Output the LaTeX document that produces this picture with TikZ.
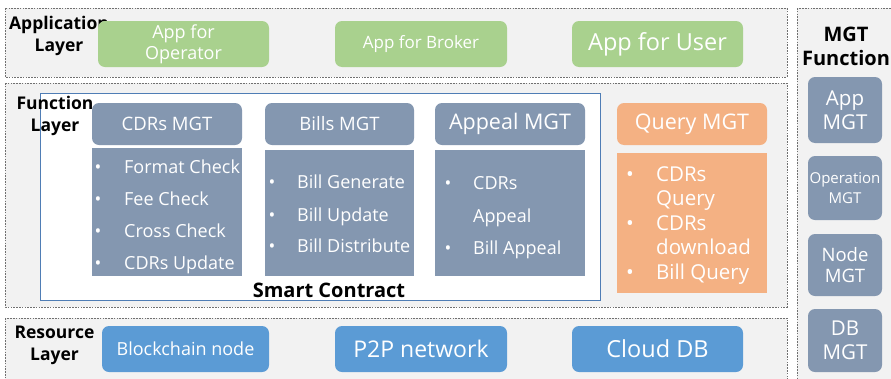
\documentclass[tikz,border=0pt]{standalone}
\usepackage{fontspec}
\setmainfont{Open Sans}
\usetikzlibrary{fit}
\definecolor{appgreen}{HTML}{A9D18E}
\definecolor{slate}{HTML}{8497B0}
\definecolor{peach}{HTML}{F4B183}
\definecolor{resblue}{HTML}{5B9BD5}
\definecolor{layergray}{HTML}{F2F2F2}
\definecolor{scblue}{HTML}{4F7DB5}
\definecolor{dashgray}{HTML}{707070}
\newcommand\fs[2]{\fontsize{#1}{#2}\selectfont}
\newcommand\bitem[2]{\makebox[#1][l]{\textbullet}#2}
\tikzset{
  layerbox/.style={draw=dashgray, dash pattern=on 1.6pt off 1.2pt, line width=0.6pt, fill=layergray},
  rbox/.style={rounded corners=7pt, inner sep=0pt, text=white, align=center},
  sbox/.style={inner sep=0pt, text=white, align=center},
  itemtxt/.style={anchor=west, inner sep=0pt, text=white, text height=0.72em, text depth=0.22em},
  lbl/.style={inner sep=0pt, align=center, font=\bfseries\fs{17.5}{21.5}},
}
\begin{document}
\begin{tikzpicture}[x=1pt,y=-1pt]
\useasboundingbox (0,0) rectangle (891,378);
\clip (0,0) rectangle (891,378);
\fill[white] (0,0) rectangle (891,378);
% layers
\path[layerbox] (5,8) rectangle (787,77);
\path[layerbox] (5,83) rectangle (787,307);
\path[layerbox] (5,318) rectangle (787,392);
\path[layerbox] (797,8) rectangle (905,392);
% smart contract
\draw[scblue, line width=0.7pt, fill=white] (40,93) rectangle (600,300);
\node[lbl, font=\bfseries\fs{20}{24}] (sc) at (329,290) {Smart Contract};
% layer labels
\node[lbl] (appl) at (59,36) {Application\\Layer};
\node[lbl] (funl) at (55,116) {Function\\Layer};
\node[lbl] (resl) at (54.5,345.5) {Resource\\Layer};
\node[lbl, font=\bfseries\fs{20}{24}] (mgtl) at (846,46.5) {MGT\\Function};
% application boxes
\node[rbox, fill=appgreen, fit={(98,21)(269,67)}] (aop) {};
\node[text=white, align=center, inner sep=0pt, font=\fs{18}{21}] at (aop.center) {App for\\Operator};
\node[rbox, fill=appgreen, fit={(335,21)(507,67)}] (abr) {};
\node[text=white, inner sep=0pt, font=\fs{17}{20}] at (abr.center) {App for Broker};
\node[rbox, fill=appgreen, fit={(572,21)(743,67)}] (aus) {};
\node[text=white, inner sep=0pt, font=\fs{23.5}{27}] at (aus.center) {App for User};
% headers
\node[rbox, fill=slate, fit={(92,103)(242,145)}] (cdrh) {};
\node[text=white, inner sep=0pt, font=\fs{18.5}{21}] at (cdrh.center) {CDRs MGT};
\node[rbox, fill=slate, fit={(265,103)(414,145)}] (billh) {};
\node[text=white, inner sep=0pt, font=\fs{18.5}{21}] at (billh.center) {Bills MGT};
\node[rbox, fill=slate, fit={(435,103)(585,145)}] (apph) {};
\node[text=white, inner sep=0pt, font=\fs{21.5}{25}] at (apph.center) {Appeal MGT};
\node[rbox, fill=peach, fit={(617,103)(767,145)}] (qh) {};
\node[text=white, inner sep=0pt, font=\fs{21.5}{25}] at (qh.center) {Query MGT};
% bodies
\node[sbox, fill=slate, fit={(92,148)(242,276)}] (cdrb) {};
\node[sbox, fill=slate, fit={(265,150)(414,276)}] (billb) {};
\node[sbox, fill=slate, fit={(435,150)(585,276)}] (appb) {};
\node[sbox, fill=peach, fit={(617,153)(767,293)}] (qb) {};
% CDRs items
\begin{scope}[every node/.style={itemtxt, font=\fs{18}{21}}]
\node (c1) at (94.5,170.5) {\bitem{29.5pt}{Format Check}};
\node (c2) at (94.5,202.5) {\bitem{29.5pt}{Fee Check}};
\node (c3) at (94.5,234.5) {\bitem{29.5pt}{Cross Check}};
\node (c4) at (94.5,266.5) {\bitem{29.5pt}{CDRs Update}};
\node (b1) at (268.5,185.5) {\bitem{28.5pt}{Bill Generate}};
\node (b2) at (268.5,218.5) {\bitem{28.5pt}{Bill Update}};
\node (b3) at (268.5,249.5) {\bitem{28.5pt}{Bill Distribute}};
\node (p1) at (444.5,186.5) {\bitem{28.5pt}{CDRs}};
\node (p2) at (473,219.5) {Appeal};
\node (p3) at (444.5,251.5) {\bitem{28.5pt}{Bill Appeal}};
\end{scope}
\begin{scope}[every node/.style={itemtxt, font=\fs{20.5}{24}}]
\node (q1) at (626,178.5) {\bitem{30pt}{CDRs}};
\node (q2) at (656,203) {Query};
\node (q3) at (626,227.5) {\bitem{30pt}{CDRs}};
\node (q4) at (656,252) {download};
\node (q5) at (626,276.5) {\bitem{30pt}{Bill Query}};
\end{scope}
% resource boxes
\node[rbox, fill=resblue, fit={(102,326)(269,372)}] (bcn) {};
\node[text=white, inner sep=0pt, font=\fs{18}{21}] at (bcn.center) {Blockchain node};
\node[rbox, fill=resblue, fit={(335,326)(507,372)}] (p2p) {};
\node[text=white, inner sep=0pt, font=\fs{23}{27}] at (p2p.center) {P2P network};
\node[rbox, fill=resblue, fit={(572,326)(743,372)}] (cdb) {};
\node[text=white, inner sep=0pt, font=\fs{23.5}{27}] at (cdb.center) {Cloud DB};
% MGT boxes
\node[rbox, fill=slate, fit={(808,77)(882,143)}] (m1) {};
\node[text=white, align=center, inner sep=0pt, font=\fs{20.5}{24}] at (m1.center) {App\\MGT};
\node[rbox, fill=slate, fit={(808,156)(882,220)}] (m2) {};
\node[text=white, align=center, inner sep=0pt, font=\fs{15}{20}] at (m2.center) {Operation\\MGT};
\node[rbox, fill=slate, fit={(808,234)(882,296)}] (m3) {};
\node[text=white, align=center, inner sep=0pt, font=\fs{18.5}{21.5}] at (m3.center) {Node\\MGT};
\node[rbox, fill=slate, fit={(808,309)(882,372)}] (m4) {};
\node[text=white, align=center, inner sep=0pt, font=\fs{20.5}{24}] at (m4.center) {DB\\MGT};
\end{tikzpicture}
\end{document}
